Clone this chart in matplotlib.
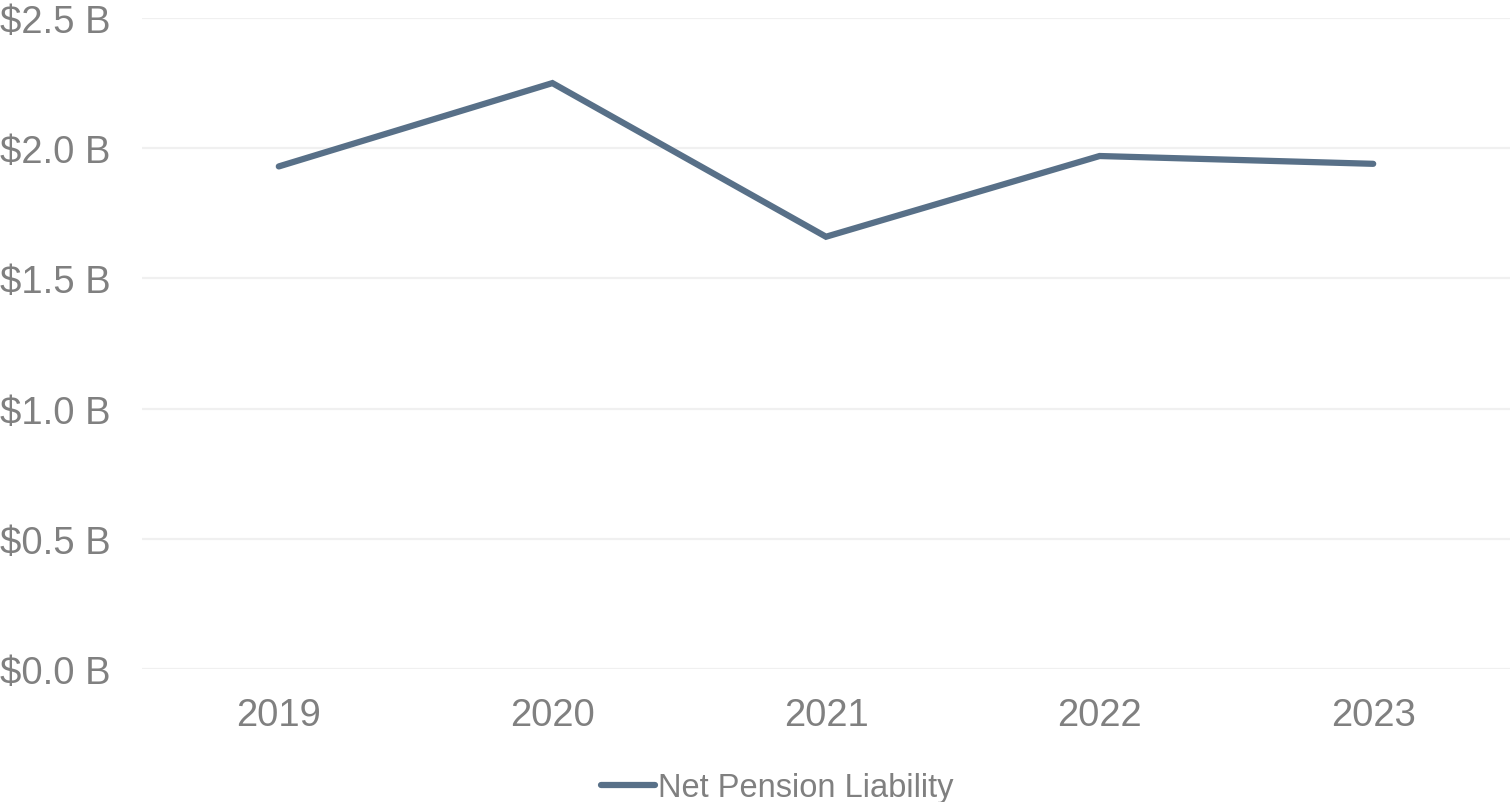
import matplotlib
matplotlib.use("Agg")
import matplotlib.pyplot as plt

years = ["2019", "2020", "2021", "2022", "2023"]
net_pension_liability = [1.93, 2.25, 1.66, 1.97, 1.94]  # billions USD
y_ticks = [0.0, 0.5, 1.0, 1.5, 2.0, 2.5]
y_tick_labels = ["$0.0 B", "$0.5 B", "$1.0 B", "$1.5 B", "$2.0 B", "$2.5 B"]

plt.rcParams['font.family'] = ['Liberation Sans', 'DejaVu Sans']

W, H = 1512, 803
fig = plt.figure(figsize=(W / 100, H / 100), dpi=100)
ax = fig.add_axes([142 / W, 1 - 670 / H, (1510 - 142) / W, (670 - 19) / H])

x = list(range(len(years)))
line, = ax.plot(x, net_pension_liability, color="#587088", linewidth=4.5,
                solid_capstyle="round", solid_joinstyle="miter", label="Net Pension Liability")

ax.set_xlim(-0.5, len(years) - 0.5)
ax.set_ylim(0, 2.5)
ax.set_xticks(x)
ax.set_xticklabels(years)
ax.set_yticks(y_ticks)
ax.set_yticklabels(y_tick_labels)

for s in ax.spines.values():
    s.set_visible(False)
ax.tick_params(axis="both", length=0, labelsize=27.5, labelcolor="#808080")
ax.tick_params(axis="x", pad=20)
for lbl in ax.get_yticklabels():
    lbl.set_horizontalalignment("left")
ax.yaxis.set_tick_params(pad=0)
for lbl in ax.get_yticklabels():
    lbl.set_x(-142 / (1510 - 142))
ax.grid(axis="y", color="#f0f0f0", linewidth=1.6)
ax.set_axisbelow(True)

leg = fig.legend(handles=[line], loc="center", bbox_to_anchor=(777 / W, 1 - 789 / H),
                 frameon=False, fontsize=23.5, handlelength=1.65, handletextpad=0.1,
                 labelcolor="#808080")

fig.savefig("out.png", dpi=100)
